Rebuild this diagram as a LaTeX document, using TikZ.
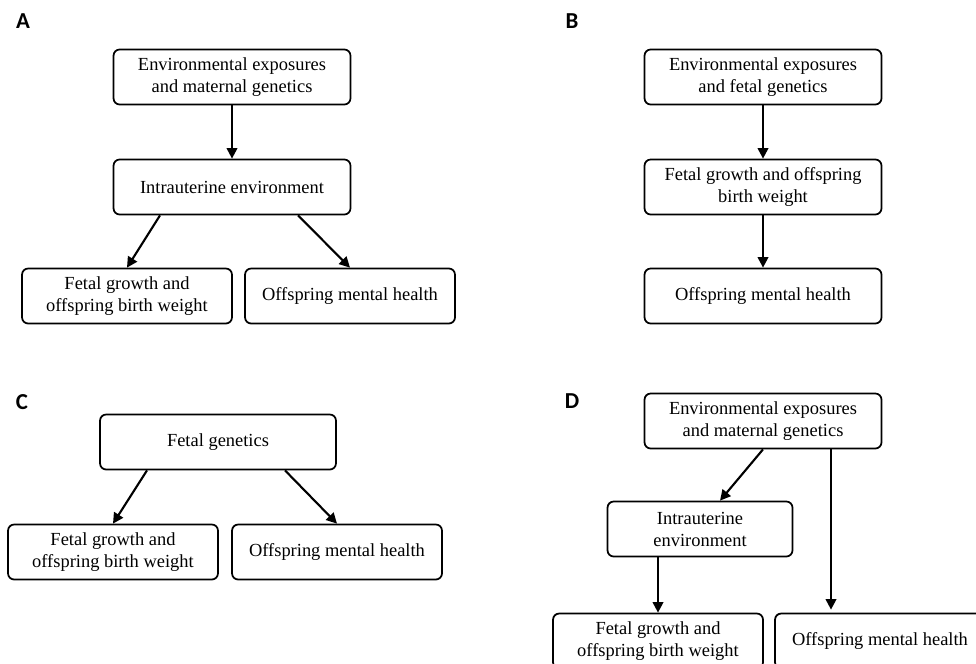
\documentclass[tikz,border=0pt]{standalone}
\usepackage{fontspec}
\setmainfont{Liberation Serif}
\newfontfamily\panelfont{Carlito}
\usetikzlibrary{arrows.meta,calc}

\tikzset{
    box/.style={draw, line width=1pt, rounded corners=3.5pt, align=center,
        inner sep=2pt, minimum height=1.1cm, font=\fontsize{10.5}{12.5}\selectfont},
    arr/.style={-{Triangle[length=6pt,width=6pt]}, line width=1.2pt},
    panel/.style={font=\panelfont\bfseries\fontsize{13}{15}\selectfont}
}

\begin{document}
\begin{tikzpicture}[x=0.02cm,y=-0.02cm]
        \useasboundingbox (0,0) rectangle (976,663);
        \clip (0,0) rectangle (976,663);

        \node [panel] (pa) at (23,21) {A};
        \node [box, minimum width=4.74cm] (a-exp) at (232,77)
            {Environmental exposures\\and maternal genetics};
        \node [box, minimum width=4.74cm] (a-iu) at (232,187)
            {Intrauterine environment};
        \node [box, minimum width=4.2cm] (a-fg) at (127,296)
            {Fetal growth and\\offspring birth weight};
        \node [box, minimum width=4.2cm] (a-mh) at (350,296)
            {Offspring mental health};
        \draw [arr] (a-exp) -- (a-iu);
        \draw [arr] ($(a-iu.south)+(-72,0)$) -- (a-fg.north);
        \draw [arr] ($(a-iu.south)+(66,0)$) -- (a-mh.north);

        \node [panel] (pb) at (572,21) {B};
        \node [box, minimum width=4.74cm] (b-exp) at (763,77)
            {Environmental exposures\\and fetal genetics};
        \node [box, minimum width=4.74cm] (b-fg) at (763,187)
            {Fetal growth and offspring\\birth weight};
        \node [box, minimum width=4.74cm] (b-mh) at (763,296)
            {Offspring mental health};
        \draw [arr] (b-exp) -- (b-fg);
        \draw [arr] (b-fg) -- (b-mh);

        \node [panel] (pc) at (22,402) {C};
        \node [box, minimum width=4.72cm] (c-gen) at (218,442)
            {Fetal genetics};
        \node [box, minimum width=4.2cm] (c-fg) at (113,552)
            {Fetal growth and\\offspring birth weight};
        \node [box, minimum width=4.2cm] (c-mh) at (337,552)
            {Offspring mental health};
        \draw [arr] ($(c-gen.south)+(-71,0)$) -- (c-fg.north);
        \draw [arr] ($(c-gen.south)+(67,0)$) -- (c-mh.north);

        \node [panel] (pd) at (572,401) {D};
        \node [box, minimum width=4.74cm] (d-exp) at (763,421)
            {Environmental exposures\\and maternal genetics};
        \node [box, minimum width=3.7cm] (d-iu) at (700,529)
            {Intrauterine\\environment};
        \node [box, minimum width=4.2cm] (d-fg) at (658,641)
            {Fetal growth and\\offspring birth weight};
        \node [box, minimum width=4.2cm] (d-mh) at (880,641)
            {Offspring mental health};
        \coordinate (d-split) at ($(d-exp.south)+(68,0)$);
        \draw [arr] (d-exp.south) -- ($(d-iu.north)+(20,0)$);
        \draw [arr] (d-iu.south -| d-fg.north) -- (d-fg.north);
        \draw [arr] (d-split) -- ($(d-split |- d-mh.north)+(0,-3)$);
\end{tikzpicture}
\end{document}
